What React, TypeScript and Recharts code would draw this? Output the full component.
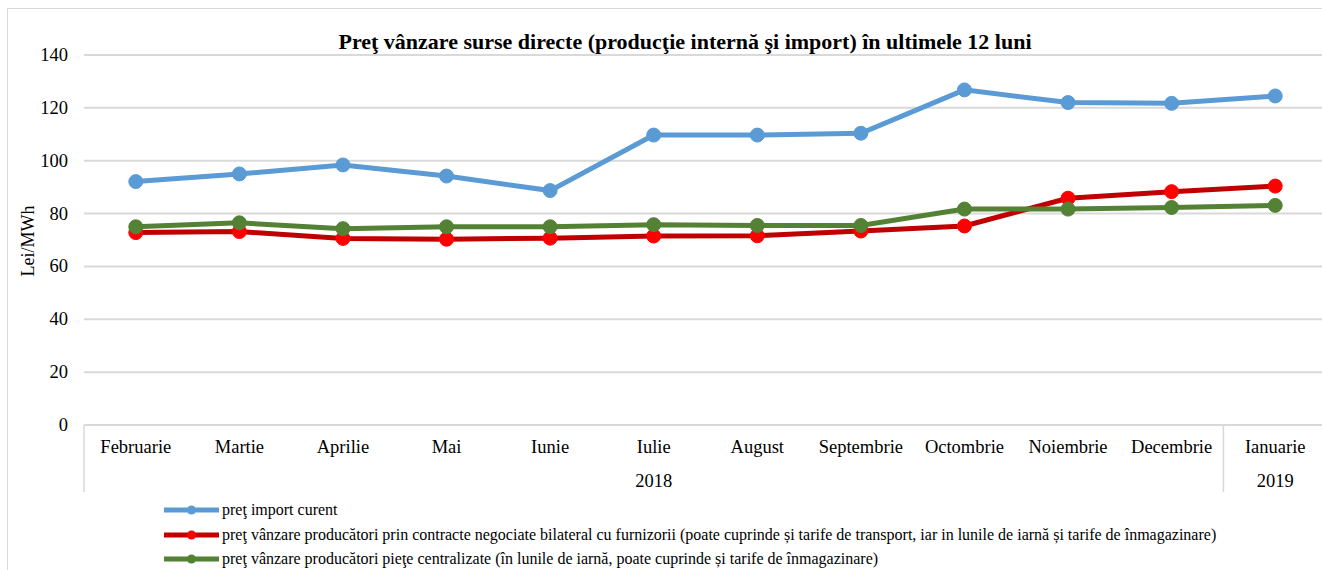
import { CartesianGrid, Line, LineChart, XAxis, YAxis } from "recharts";

const months = [
  "Februarie",
  "Martie",
  "Aprilie",
  "Mai",
  "Iunie",
  "Iulie",
  "August",
  "Septembrie",
  "Octombrie",
  "Noiembrie",
  "Decembrie",
  "Ianuarie",
];

const yearGroups = [
  { label: "2018", count: 11 },
  { label: "2019", count: 1 },
];

const importPrice = [92.1, 95.0, 98.4, 94.2, 88.7, 109.7, 109.7, 110.4, 126.8, 122.0, 121.7, 124.5];
const bilateralPrice = [72.8, 73.2, 70.6, 70.3, 70.7, 71.5, 71.6, 73.4, 75.3, 85.8, 88.3, 90.4];
const centralizedPrice = [75.0, 76.5, 74.3, 75.0, 75.0, 75.8, 75.5, 75.5, 81.7, 81.7, 82.3, 83.1];

const yTicks = [0, 20, 40, 60, 80, 100, 120, 140];

const series = [
  {
    key: "importPrice",
    name: "preţ import curent",
    color: "#5B9BD5",
    dot: "#5B9BD5",
  },
  {
    key: "bilateralPrice",
    name: "preţ vânzare producători prin contracte negociate bilateral cu furnizorii (poate cuprinde și tarife de transport, iar in lunile de iarnă și tarife de înmagazinare)",
    color: "#C00000",
    dot: "#FF0000",
  },
  {
    key: "centralizedPrice",
    name: "preţ vânzare producători pieţe centralizate (în lunile de iarnă, poate cuprinde și tarife de înmagazinare)",
    color: "#548235",
    dot: "#548235",
  },
];

const data = months.map((month, i) => ({
  month,
  importPrice: importPrice[i],
  bilateralPrice: bilateralPrice[i],
  centralizedPrice: centralizedPrice[i],
}));

const FONT = "'Liberation Serif', 'Times New Roman', serif";
const CHART_W = 1327;
const CHART_H = 570;
const PLOT_LEFT = 84;
const PLOT_TOP = 55;
const PLOT_BOTTOM = 425;
const BAND = (CHART_W - PLOT_LEFT) / months.length;

// which tick starts each year group
const groupStarts: Record<number, { label: string; count: number }> = {};
let acc = 0;
yearGroups.forEach((g) => {
  groupStarts[acc] = g;
  acc += g.count;
});

function MonthTick({ x, payload }: any) {
  const i = payload.index;
  const group = groupStarts[i];
  return (
    <g>
      <text
        x={x}
        y={PLOT_BOTTOM + 22}
        textAnchor="middle"
        dominantBaseline="central"
        fontFamily={FONT}
        fontSize={18.5}
        fill="#000"
      >
        {payload.value}
      </text>
      {group && (
        <>
          <line
            x1={x - BAND / 2}
            x2={x - BAND / 2}
            y1={PLOT_BOTTOM}
            y2={PLOT_BOTTOM + 67}
            stroke="#D9D9D9"
            strokeWidth={1.5}
          />
          <text
            x={x + ((group.count - 1) / 2) * BAND}
            y={PLOT_BOTTOM + 56}
            textAnchor="middle"
            dominantBaseline="central"
            fontFamily={FONT}
            fontSize={18.5}
            fill="#000"
          >
            {group.label}
          </text>
        </>
      )}
    </g>
  );
}

function ValueTick({ y, payload }: any) {
  return (
    <text
      x={68}
      y={y}
      textAnchor="end"
      dominantBaseline="central"
      fontFamily={FONT}
      fontSize={18.5}
      fill="#000"
    >
      {payload.value}
    </text>
  );
}

function UnitLabel() {
  return (
    <text
      x={28}
      y={241}
      transform="rotate(-90 28 241)"
      textAnchor="middle"
      dominantBaseline="central"
      fontFamily={FONT}
      fontSize={18}
      fill="#000"
    >
      Lei/MWh
    </text>
  );
}

const legendRows = [510, 534.5, 559];

export default function App() {
  return (
    <div
      style={{
        position: "absolute",
        left: 0,
        top: 0,
        width: 1322,
        height: 570,
        overflow: "hidden",
        background: "#fff",
      }}
    >
      <div
        style={{
          position: "absolute",
          left: 7,
          top: 8,
          width: 1400,
          height: 700,
          border: "1.5px solid #D9D9D9",
        }}
      />
      <div style={{ position: "absolute", left: 0, top: 0 }}>
        <LineChart
          width={CHART_W}
          height={CHART_H}
          data={data}
          margin={{ top: PLOT_TOP, right: 0, left: 0, bottom: CHART_H - PLOT_BOTTOM - 70 }}
        >
          <CartesianGrid vertical={false} stroke="#D9D9D9" strokeWidth={2} />
          <XAxis
            dataKey="month"
            height={70}
            interval={0}
            padding={{ left: BAND / 2, right: BAND / 2 }}
            tickLine={false}
            axisLine={{ stroke: "#D9D9D9", strokeWidth: 2 }}
            tick={<MonthTick />}
          />
          <YAxis
            width={PLOT_LEFT}
            domain={[0, 140]}
            ticks={yTicks}
            tickLine={false}
            axisLine={false}
            tick={<ValueTick />}
            label={<UnitLabel />}
          />
          {series.map((s) => (
            <Line
              key={s.key}
              type="linear"
              dataKey={s.key}
              name={s.name}
              stroke={s.color}
              strokeWidth={5}
              dot={{ r: 7, fill: s.dot, stroke: s.dot, strokeWidth: 1 }}
              activeDot={false}
              isAnimationActive={false}
            />
          ))}
        </LineChart>
      </div>
      <svg
        width={1322}
        height={70}
        style={{ position: "absolute", left: 0, top: 0, pointerEvents: "none" }}
      >
        <text
          x={685}
          y={49}
          textAnchor="middle"
          fontFamily={FONT}
          fontWeight="bold"
          fontSize={22}
          fill="#000"
        >
          Preţ vânzare surse directe (producţie internă şi import) în ultimele 12 luni
        </text>
      </svg>
      {series.map((s, i) => (
        <div
          key={s.key}
          style={{
            position: "absolute",
            left: 163,
            top: legendRows[i] - 10,
            height: 20,
            display: "flex",
            alignItems: "center",
            whiteSpace: "nowrap",
            fontFamily: FONT,
            fontSize: 16,
            color: "#000",
          }}
        >
          <svg width={58} height={20} style={{ flex: "none" }}>
            <line x1={1} x2={56} y1={10} y2={10} stroke={s.color} strokeWidth={5} />
            <circle cx={28.5} cy={10} r={4.5} fill={s.dot} />
          </svg>
          <span style={{ marginLeft: 1 }}>{s.name}</span>
        </div>
      ))}
    </div>
  );
}
